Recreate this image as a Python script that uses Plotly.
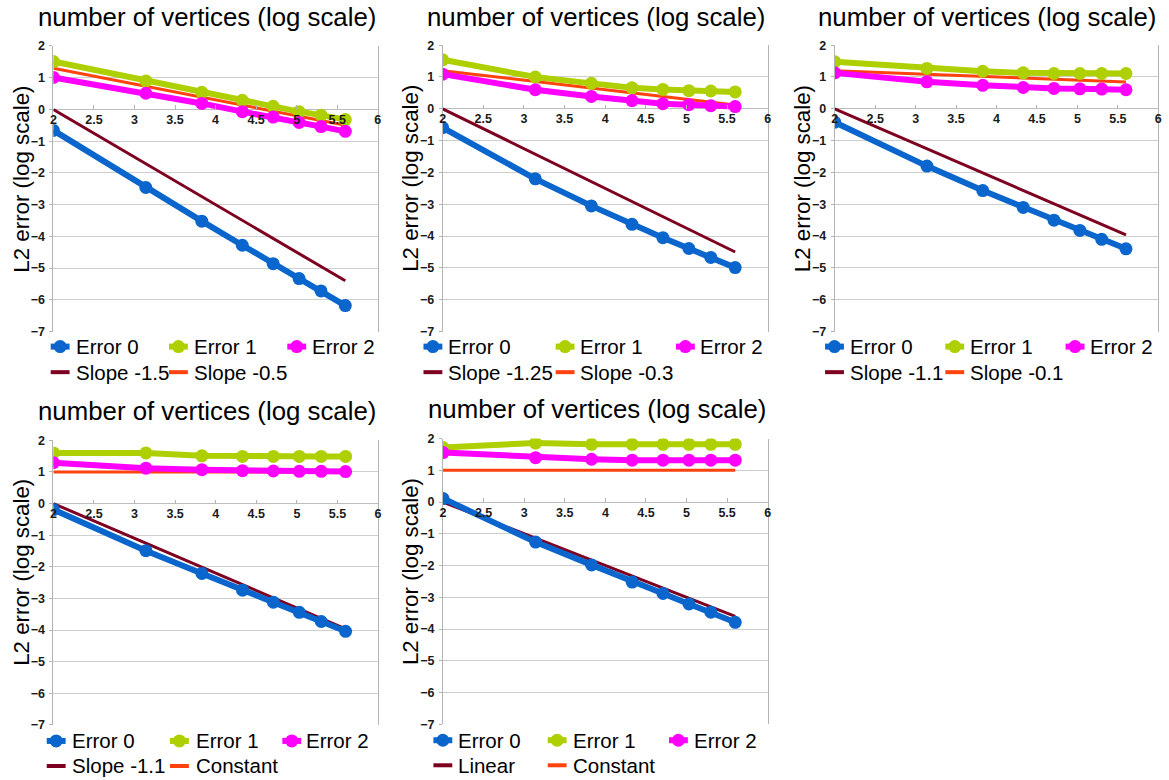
import plotly.graph_objects as go

W, H = 1169, 780

# ---------------- data ----------------
x_vals = [2.0, 3.14, 3.83, 4.33, 4.71, 5.03, 5.30, 5.60]
x_ticks = [2, 2.5, 3, 3.5, 4, 4.5, 5, 5.5, 6]
x_tick_labels = ["2", "2.5", "3", "3.5", "4", "4.5", "5", "5.5", "6"]
y_ticks = [-7, -6, -5, -4, -3, -2, -1, 0, 1, 2]
ref_x = [2.0, 5.6]

p1_err0 = [-0.66, -2.46, -3.52, -4.28, -4.86, -5.33, -5.72, -6.18]
p1_err1 = [1.51, 0.90, 0.54, 0.29, 0.10, -0.07, -0.18, -0.32]
p1_err2 = [1.01, 0.51, 0.19, -0.07, -0.24, -0.41, -0.54, -0.69]
p1_ref_a = [0.0, -5.4]
p1_ref_b = [1.3, -0.5]
p1_ref_names = ["Slope -1.5", "Slope -0.5"]

p2_err0 = [-0.59, -2.20, -3.05, -3.63, -4.05, -4.39, -4.67, -4.99]
p2_err1 = [1.54, 1.00, 0.80, 0.66, 0.61, 0.57, 0.56, 0.53]
p2_err2 = [1.09, 0.60, 0.39, 0.26, 0.16, 0.13, 0.10, 0.07]
p2_ref_a = [0.0, -4.5]
p2_ref_b = [1.2, 0.12]
p2_ref_names = ["Slope -1.25", "Slope -0.3"]

p3_err0 = [-0.42, -1.80, -2.57, -3.10, -3.50, -3.82, -4.10, -4.40]
p3_err1 = [1.48, 1.27, 1.18, 1.13, 1.11, 1.11, 1.11, 1.11]
p3_err2 = [1.13, 0.85, 0.74, 0.67, 0.64, 0.63, 0.62, 0.60]
p3_ref_a = [0.0, -3.96]
p3_ref_b = [1.2, 0.84]
p3_ref_names = ["Slope -1.1", "Slope -0.1"]

p4_err0 = [-0.19, -1.49, -2.21, -2.74, -3.12, -3.44, -3.73, -4.04]
p4_err1 = [1.60, 1.60, 1.51, 1.49, 1.49, 1.49, 1.49, 1.49]
p4_err2 = [1.29, 1.12, 1.07, 1.04, 1.03, 1.02, 1.02, 1.01]
p4_ref_a = [0.0, -3.96]
p4_ref_b = [1.0, 1.0]
p4_ref_names = ["Slope -1.1", "Constant"]

p5_err0 = [0.11, -1.26, -1.98, -2.52, -2.88, -3.21, -3.47, -3.79]
p5_err1 = [1.72, 1.86, 1.82, 1.82, 1.82, 1.82, 1.82, 1.82]
p5_err2 = [1.56, 1.40, 1.35, 1.32, 1.32, 1.32, 1.32, 1.32]
p5_ref_a = [0.0, -3.6]
p5_ref_b = [1.0, 1.0]
p5_ref_names = ["Linear", "Constant"]

err_names = ["Error 0", "Error 1", "Error 2"]
title_text = "number of vertices (log scale)"
ytitle_text = "L2 error (log scale)"

# ---------------- styles ----------------
err_colors = ["#0a66cc", "#aecf00", "#ff00ff"]
ref_colors = ["#7e0021", "#ff420e"]
grid_color = "#cfcfcf"
FONT = "Liberation Sans"

# panel geometry (target pixels): plot box, title centre, y-title centre, legend layout
panels = [
    dict(box=(50.7, 46.5, 377.0, 331.5), title=(205.5, 18), ytitle=(19, 179),
         sym=[48, 167, 286], txt=[71, 190, 309], rows=(346.5, 372),
         e=(p1_err0, p1_err1, p1_err2), r=(p1_ref_a, p1_ref_b), rn=p1_ref_names),
    dict(box=(442.3, 45.7, 769.3, 331.5), title=(597, 17.5), ytitle=(410, 178.5),
         sym=[423, 556, 677], txt=[446, 578, 699], rows=(346.5, 372),
         e=(p2_err0, p2_err1, p2_err2), r=(p2_ref_a, p2_ref_b), rn=p2_ref_names),
    dict(box=(836.7, 45.7, 1162.3, 331.5), title=(990, 17.5), ytitle=(803.7, 178.5),
         sym=[827, 948, 1069], txt=[850, 971, 1092], rows=(346.5, 372),
         e=(p3_err0, p3_err1, p3_err2), r=(p3_ref_a, p3_ref_b), rn=p3_ref_names),
    dict(box=(50.7, 440.0, 377.3, 724.0), title=(205.5, 411), ytitle=(18.7, 571.7),
         sym=[44, 168, 281], txt=[67, 192, 303], rows=(740, 765),
         e=(p4_err0, p4_err1, p4_err2), r=(p4_ref_a, p4_ref_b), rn=p4_ref_names),
    dict(box=(442.7, 438.3, 769.3, 723.3), title=(597.3, 409), ytitle=(410, 571),
         sym=[433, 548, 670], txt=[456, 571, 693], rows=(739.3, 764.3),
         e=(p5_err0, p5_err1, p5_err2), r=(p5_ref_a, p5_ref_b), rn=p5_ref_names),
]

# the capture maps figure row y to 7.6 + 0.98*y; place elements so they land on target rows
V_OFF, V_SCALE = 7.6, 0.98


def px(x):
    return x / W


def py(y):
    yf = (y - V_OFF) / V_SCALE
    return 1 - yf / H


fig = go.Figure()
layout = {}
shapes = []
annotations = []

tickfont = dict(family=FONT, size=12.5, color="#1a1a1a", weight="bold")

for i, p in enumerate(panels):
    k = "" if i == 0 else str(i + 1)
    xa, ya = "x" + k, "y" + k
    x0, y0, x1, y1 = p["box"]
    zero_py = y0 + (y1 - y0) * 2 / 9

    for j in range(2):
        fig.add_trace(go.Scatter(
            x=ref_x, y=p["r"][j], mode="lines", name=p["rn"][j],
            line=dict(color=ref_colors[j], width=3),
            xaxis=xa, yaxis=ya, showlegend=False, hoverinfo="skip"))
    for j in range(3):
        fig.add_trace(go.Scatter(
            x=x_vals, y=p["e"][j], mode="lines+markers", name=err_names[j],
            line=dict(color=err_colors[j], width=6),
            marker=dict(color=err_colors[j], size=13, symbol="circle"),
            xaxis=xa, yaxis=ya, showlegend=False))

    layout["xaxis" + k] = dict(
        domain=[px(x0), px(x1)], range=[2, 6], anchor="free", position=py(zero_py),
        tickvals=x_ticks, ticktext=x_tick_labels, showgrid=False, zeroline=False,
        showline=False, ticks="inside", ticklen=4, tickcolor="#b3b3b3",
        tickfont=tickfont, ticklabelstandoff=1, fixedrange=True)
    layout["yaxis" + k] = dict(
        domain=[py(y1), py(y0)], range=[-7, 2], anchor=xa, tickvals=y_ticks,
        showgrid=True, gridcolor=grid_color, gridwidth=1, zeroline=True,
        zerolinecolor="#bdbdbd", zerolinewidth=1,
        showline=True, linecolor="#b3b3b3", linewidth=1, mirror=True,
        ticks="outside", ticklen=3, tickcolor="#b3b3b3", tickfont=tickfont,
        ticklabelstandoff=2, fixedrange=True)

    annotations.append(dict(
        text=title_text, x=px(p["title"][0]), y=py(p["title"][1]), xref="paper", yref="paper",
        xanchor="center", yanchor="middle", showarrow=False,
        font=dict(family=FONT, size=25.8, color="#000000")))
    annotations.append(dict(
        text=ytitle_text, x=px(p["ytitle"][0]), y=py(p["ytitle"][1]), xref="paper", yref="paper",
        xanchor="center", yanchor="middle", showarrow=False, textangle=-90,
        font=dict(family=FONT, size=22.3, color="#000000")))

    row1, row2 = p["rows"]
    for j in range(3):
        sx = p["sym"][j]
        shapes.append(dict(type="line", xref="paper", yref="paper",
                           x0=px(sx), x1=px(sx + 19), y0=py(row1), y1=py(row1),
                           line=dict(color=err_colors[j], width=6)))
        shapes.append(dict(type="circle", xref="paper", yref="paper",
                           xsizemode="pixel", ysizemode="pixel",
                           xanchor=px(sx + 9.5), yanchor=py(row1),
                           x0=-6.5, x1=6.5, y0=-6.5, y1=6.5,
                           fillcolor=err_colors[j], line=dict(width=0)))
        annotations.append(dict(
            text=err_names[j], x=px(p["txt"][j]), y=py(row1), xref="paper", yref="paper",
            xanchor="left", yanchor="middle", showarrow=False,
            font=dict(family=FONT, size=20.5, color="#000000")))
    for j in range(2):
        sx = p["sym"][j]
        shapes.append(dict(type="line", xref="paper", yref="paper",
                           x0=px(sx), x1=px(sx + 19), y0=py(row2), y1=py(row2),
                           line=dict(color=ref_colors[j], width=4)))
        annotations.append(dict(
            text=p["rn"][j], x=px(p["txt"][j]), y=py(row2), xref="paper", yref="paper",
            xanchor="left", yanchor="middle", showarrow=False,
            font=dict(family=FONT, size=20.5, color="#000000")))

fig.update_layout(
    width=W, height=H, margin=dict(l=0, r=0, t=0, b=0),
    paper_bgcolor="white", plot_bgcolor="white", showlegend=False,
    shapes=shapes, annotations=annotations, **layout)

pin_page = (
    "document.body.style.margin='0';document.body.style.padding='0';"
    "document.documentElement.style.overflow='hidden';"
)

fig.write_html("out.html", config={"displayModeBar": False}, post_script=pin_page)
